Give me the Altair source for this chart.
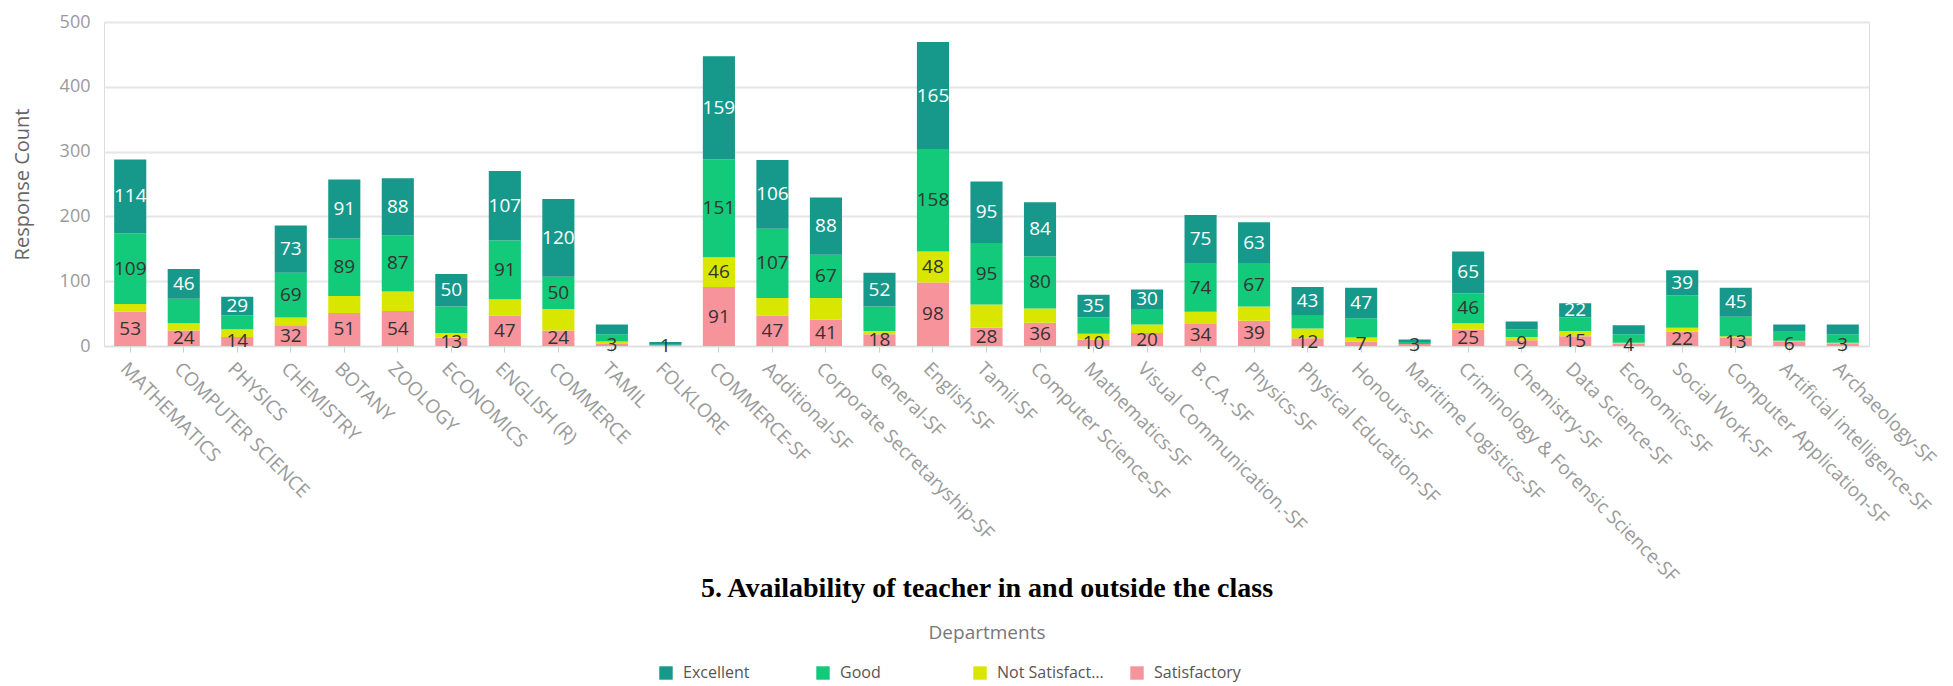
import altair as alt
import pandas as pd

departments = [
    "MATHEMATICS", "COMPUTER SCIENCE", "PHYSICS", "CHEMISTRY", "BOTANY", "ZOOLOGY",
    "ECONOMICS", "ENGLISH (R)", "COMMERCE", "TAMIL", "FOLKLORE", "COMMERCE-SF",
    "Additional-SF", "Corporate Secretaryship-SF", "General-SF", "English-SF", "Tamil-SF",
    "Computer Science-SF", "Mathematics-SF", "Visual Communication.-SF", "B.C.A.-SF",
    "Physics-SF", "Physical Education-SF", "Honours-SF", "Maritime Logistics-SF",
    "Criminology & Forensic Science-SF", "Chemistry-SF", "Data Science-SF", "Economics-SF",
    "Social Work-SF", "Computer Application-SF", "Artificial intelligence-SF", "Archaeology-SF",
]
excellent = [114, 46, 29, 73, 91, 88, 50, 107, 120, 15, 4, 159, 106, 88, 52, 165, 95,
             84, 35, 30, 75, 63, 43, 47, 4, 65, 12, 22, 14, 39, 45, 11, 15]
good = [109, 38, 21, 69, 89, 87, 41, 91, 50, 11, 1, 151, 107, 67, 38, 158, 95,
        80, 25, 24, 74, 67, 21, 30, 3, 46, 12, 21, 13, 50, 30, 14, 13]
not_satisfactory = [12, 11, 12, 12, 26, 30, 7, 25, 33, 4, 0, 46, 27, 33, 5, 48, 36,
                    22, 9, 13, 19, 22, 15, 6, 0, 10, 5, 8, 1, 6, 2, 2, 2]
satisfactory = [53, 24, 14, 32, 51, 54, 13, 47, 24, 3, 1, 91, 47, 41, 18, 98, 28,
                36, 10, 20, 34, 39, 12, 7, 3, 25, 9, 15, 4, 22, 13, 6, 3]

series_names = ["Excellent", "Good", "Not Satisfactory", "Satisfactory"]
series_colors = ["#16998a", "#13c97a", "#d9e600", "#f7939b"]
stack_order = ["Satisfactory", "Not Satisfactory", "Good", "Excellent"]
label_min = {"Satisfactory": 0, "Not Satisfactory": 46, "Good": 46, "Excellent": 20}
hidden_labels = [("Social Work-SF", "Good")]
y_ticks = [0, 100, 200, 300, 400, 500]

series_values = {
    "Excellent": excellent,
    "Good": good,
    "Not Satisfactory": not_satisfactory,
    "Satisfactory": satisfactory,
}

rows = []
for i, d in enumerate(departments):
    base = 0
    for k, s in enumerate(stack_order):
        v = series_values[s][i]
        show = v >= label_min[s] and v > 0 and (d, s) not in hidden_labels
        rows.append(dict(dept=d, series=s, value=v, order=k, y0=base, y1=base + v,
                         mid=base + v / 2, label=str(v) if show else ""))
        base += v
df = pd.DataFrame(rows)

FONT = "Open Sans"
x_scale = alt.Scale(paddingInner=0.4, paddingOuter=0.19)
y_scale = alt.Scale(domain=[0, 500], nice=False)

bars = alt.Chart(df).mark_bar().encode(
    x=alt.X("dept:N", sort=departments, scale=x_scale,
            axis=alt.Axis(labelAngle=45, labelFont=FONT, labelFontSize=19, labelColor="#9a9a9a",
                          labelPadding=7, labelLimit=400, ticks=True, tickColor="#cfcfcf", tickSize=6,
                          domain=True, domainColor="#dddddd", grid=False, orient="bottom",
                          title="5. Availability of teacher in and outside the class",
                          titleFont="Liberation Serif", titleFontSize=28, titleFontWeight="bold",
                          titleColor="#000000", titleY=242, titleBaseline="middle")),
    y=alt.Y("y0:Q", scale=y_scale,
            axis=alt.Axis(values=y_ticks, title="Response Count", titleFont=FONT, titleFontSize=20,
                          titleFontWeight="normal", titleColor="#666666", titlePadding=27,
                          labelFont=FONT, labelFontSize=18, labelColor="#9a9a9a", labelPadding=14,
                          ticks=False, domain=False, grid=True, gridColor="#e6e6e6", gridWidth=2)),
    y2="y1:Q",
    color=alt.Color("series:N", scale=alt.Scale(domain=series_names, range=series_colors),
                    legend=alt.Legend(orient="none", legendX=554, legendY=643, direction="horizontal",
                                      columns=4, title=None, symbolType="square", symbolSize=180,
                                      symbolStrokeWidth=0, labelFont=FONT, labelFontSize=16,
                                      labelColor="#555555", labelLimit=110, labelOffset=9,
                                      gridAlign="all", columnPadding=25)),
    order=alt.Order("order:Q"),
)

texts = alt.Chart(df).mark_text(font=FONT, fontSize=19, baseline="middle", align="center").encode(
    x=alt.X("dept:N", sort=departments, scale=x_scale,
            axis=alt.Axis(labels=False, ticks=False, domain=False, grid=False, orient="bottom",
                          title="Departments", titleFont=FONT, titleFontSize=19,
                          titleFontWeight="normal", titleColor="#777777", titleY=286,
                          titleBaseline="middle")),
    y=alt.Y("mid:Q", scale=y_scale, axis=alt.Axis(values=y_ticks, title="Response Count")),
    text="label:N",
    color=alt.condition(alt.datum.series == "Excellent", alt.value("#ffffff"), alt.value("#333333")),
)

chart = alt.layer(bars, texts).resolve_axis(x="independent").properties(
    width=1765, height=324,
    padding={"left": 4, "top": 5, "right": 6, "bottom": 6},
).configure_view(stroke=None).configure(background="white")

chart.save("out.html", embed_options={"renderer": "svg", "actions": False})
